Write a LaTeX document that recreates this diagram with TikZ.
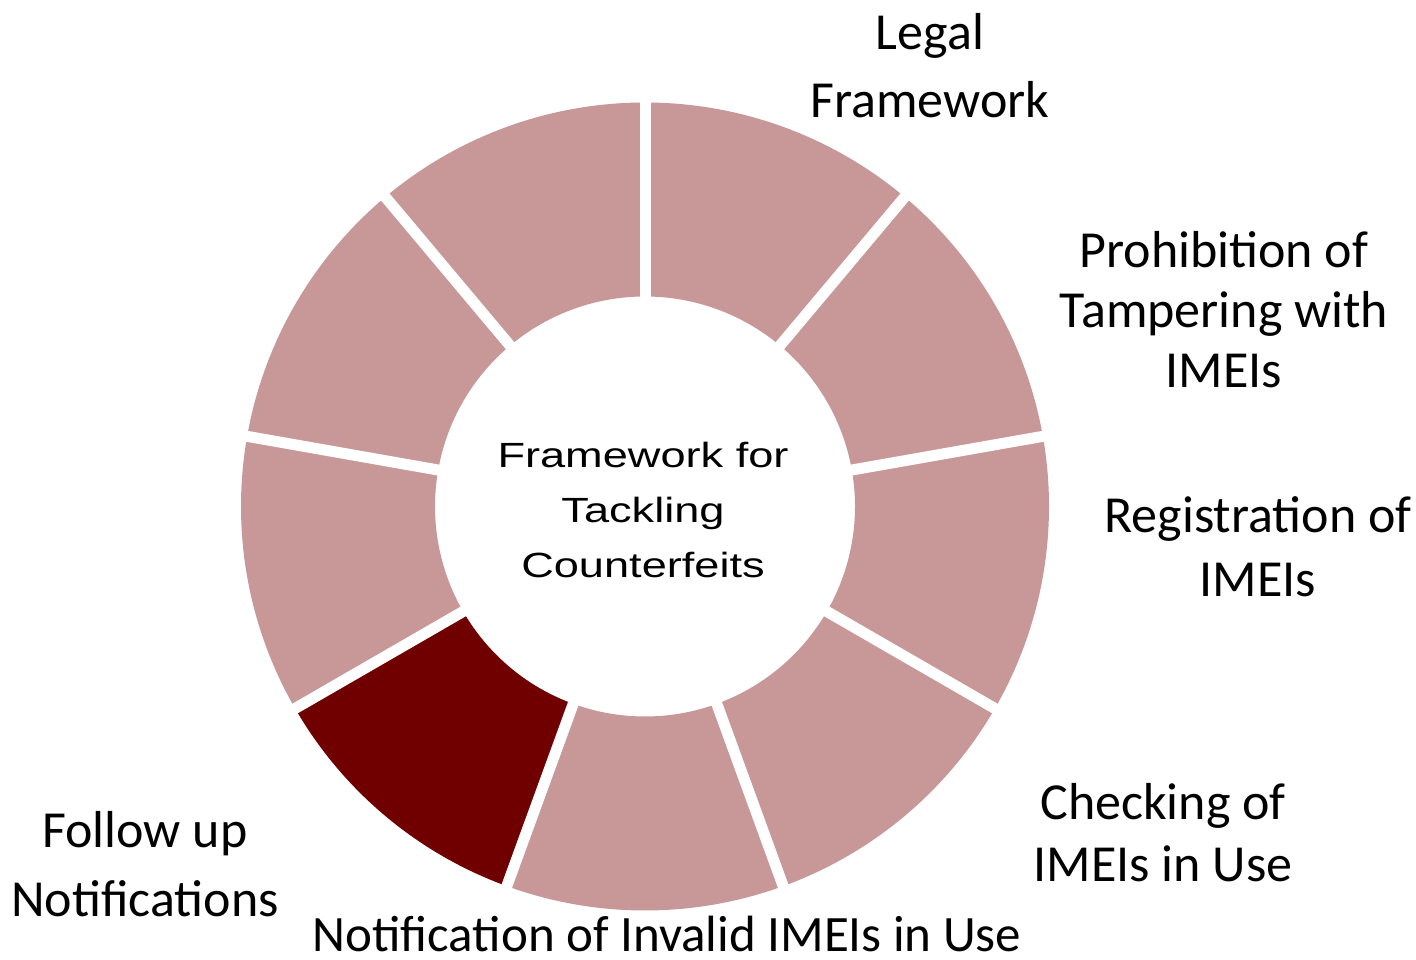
\documentclass[tikz,border=0pt]{standalone}
\usepackage{fontspec}
\setmainfont{Carlito}
\newfontfamily\hubfont{Liberation Sans}
\definecolor{segpink}{RGB}{200,152,152}
\definecolor{segdark}{RGB}{112,0,0}
\begin{document}
\begin{tikzpicture}[x=1pt, y=1pt,
    lbl/.style={align=center, anchor=base, inner sep=0pt}]
    \useasboundingbox (0,0) rectangle (1416,960);
    % donut, nine parts of 40 degrees
    \begin{scope}[shift={(645,453.5)}]
        \foreach \k in {0,...,8} {
            \pgfmathsetmacro{\a}{90-40*\k}
            \pgfmathsetmacro{\b}{50-40*\k}
            \ifnum\k=5 \def\segcol{segdark}\else \def\segcol{segpink}\fi
            \fill[\segcol] (\a:210) arc[start angle=\a, end angle=\b, radius=210]
                -- (\b:404) arc[start angle=\b, end angle=\a, radius=404] -- cycle;
        }
        \foreach \k in {0,...,8}
            \draw[white, line width=11pt] (90-40*\k:200) -- (90-40*\k:414);
        \node[lbl, xscale=1.29, font=\hubfont\fontsize{35}{55}\selectfont] (hub) at (-2,-71.5)
            {Framework for\\Tackling\\Counterfeits};
    \end{scope}
    % labels
    \node[lbl, font=\fontsize{52}{68}\selectfont] (legal) at (930,842) {Legal\\Framework};
    \node[lbl, font=\fontsize{52}{60}\selectfont] (prohib) at (1224,572) {Prohibition of\\Tampering with\\IMEIs};
    \node[lbl, font=\fontsize{52}{64}\selectfont] (regist) at (1258,363) {Registration of\\IMEIs};
    \node[lbl, font=\fontsize{52}{62}\selectfont] (check) at (1163,78) {Checking of\\IMEIs in Use};
    \node[lbl, font=\fontsize{51}{64}\selectfont] (notif) at (667,8) {Notification of Invalid IMEIs in Use};
    \node[lbl, font=\fontsize{52}{69}\selectfont] (follow) at (145,43) {Follow up\\Notifications};
\end{tikzpicture}
\end{document}
